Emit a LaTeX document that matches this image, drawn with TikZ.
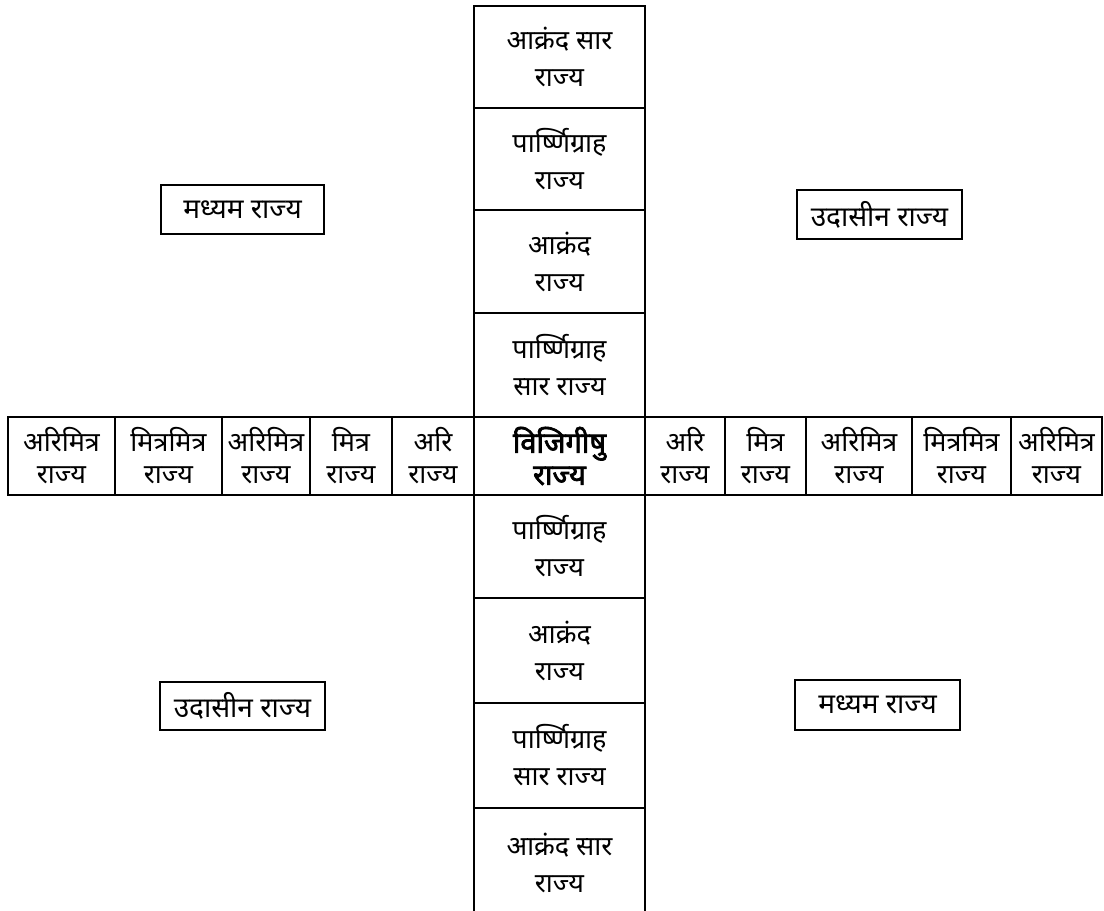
\documentclass[tikz,border=0pt]{standalone}
\usepackage{fontspec}
\setmainfont[Script=Devanagari]{Noto Sans}
\newfontfamily\heavyfont[Script=Devanagari, FakeBold=2.5]{Noto Sans}
\usetikzlibrary{positioning}

\begin{document}
\begin{tikzpicture}[x=1pt, y=-1pt,
    box/.style={draw, rectangle, line width=2.8pt, align=center, inner sep=0pt, outer sep=0pt},
    colbox/.style={box, minimum width=171pt, font=\fontsize{27}{37}\selectfont},
    rowbox/.style={box, minimum height=78pt, font=\fontsize{27}{32}\selectfont},
    sidebox/.style={box, line width=2.3pt, font=\fontsize{28}{30}\selectfont}]
    \clip (0,0) rectangle (1104,911);

    % Centre
    \node[colbox, minimum height=78pt, font=\fontsize{29}{32}\heavyfont] (vijigishu) at (559.5,456) {विजिगीषु\\राज्य};

    % Column above
    \node[colbox, minimum height=104pt, above=0pt of vijigishu] (pgsara1) {पार्ष्णिग्राह\\सार राज्य};
    \node[colbox, minimum height=103pt, above=0pt of pgsara1] (akranda1) {आक्रंद\\राज्य};
    \node[colbox, minimum height=102pt, above=0pt of akranda1] (pg1) {पार्ष्णिग्राह\\राज्य};
    \node[colbox, minimum height=102pt, above=0pt of pg1] (aksara1) {आक्रंद सार\\राज्य};

    % Column below
    \node[colbox, minimum height=103pt, below=0pt of vijigishu] (pg2) {पार्ष्णिग्राह\\राज्य};
    \node[colbox, minimum height=105pt, below=0pt of pg2] (akranda2) {आक्रंद\\राज्य};
    \node[colbox, minimum height=105pt, below=0pt of akranda2] (pgsara2) {पार्ष्णिग्राह\\सार राज्य};
    \node[colbox, minimum height=110pt, below=0pt of pgsara2] (aksara2) {आक्रंद सार\\राज्य};

    % Row left
    \node[rowbox, minimum width=82pt, left=0pt of vijigishu] (ari1) {अरि\\राज्य};
    \node[rowbox, minimum width=82pt, left=0pt of ari1] (mitra1) {मित्र\\राज्य};
    \node[rowbox, minimum width=88pt, left=0pt of mitra1] (arimitra1) {अरिमित्र\\राज्य};
    \node[rowbox, minimum width=107pt, left=0pt of arimitra1] (mitramitra1) {मित्रमित्र\\राज्य};
    \node[rowbox, minimum width=107pt, left=0pt of mitramitra1] (arimitra2) {अरिमित्र\\राज्य};

    % Row right
    \node[rowbox, minimum width=80pt, right=0pt of vijigishu] (ari2) {अरि\\राज्य};
    \node[rowbox, minimum width=81pt, right=0pt of ari2] (mitra2) {मित्र\\राज्य};
    \node[rowbox, minimum width=106pt, right=0pt of mitra2] (arimitra3) {अरिमित्र\\राज्य};
    \node[rowbox, minimum width=99pt, right=0pt of arimitra3] (mitramitra2) {मित्रमित्र\\राज्य};
    \node[rowbox, minimum width=91pt, right=0pt of mitramitra2] (arimitra4) {अरिमित्र\\राज्य};

    % Corners
    \node[sidebox, minimum width=163pt, minimum height=49pt] (madhyama1) at (242.5,209.5) {मध्यम राज्य};
    \node[sidebox, minimum width=165pt, minimum height=49pt] (udasina1) at (879.5,214.5) {उदासीन राज्य};
    \node[sidebox, minimum width=165pt, minimum height=48pt] (udasina2) at (242.5,706) {उदासीन राज्य};
    \node[sidebox, minimum width=165pt, minimum height=50pt] (madhyama2) at (877.5,705) {मध्यम राज्य};
\end{tikzpicture}
\end{document}
